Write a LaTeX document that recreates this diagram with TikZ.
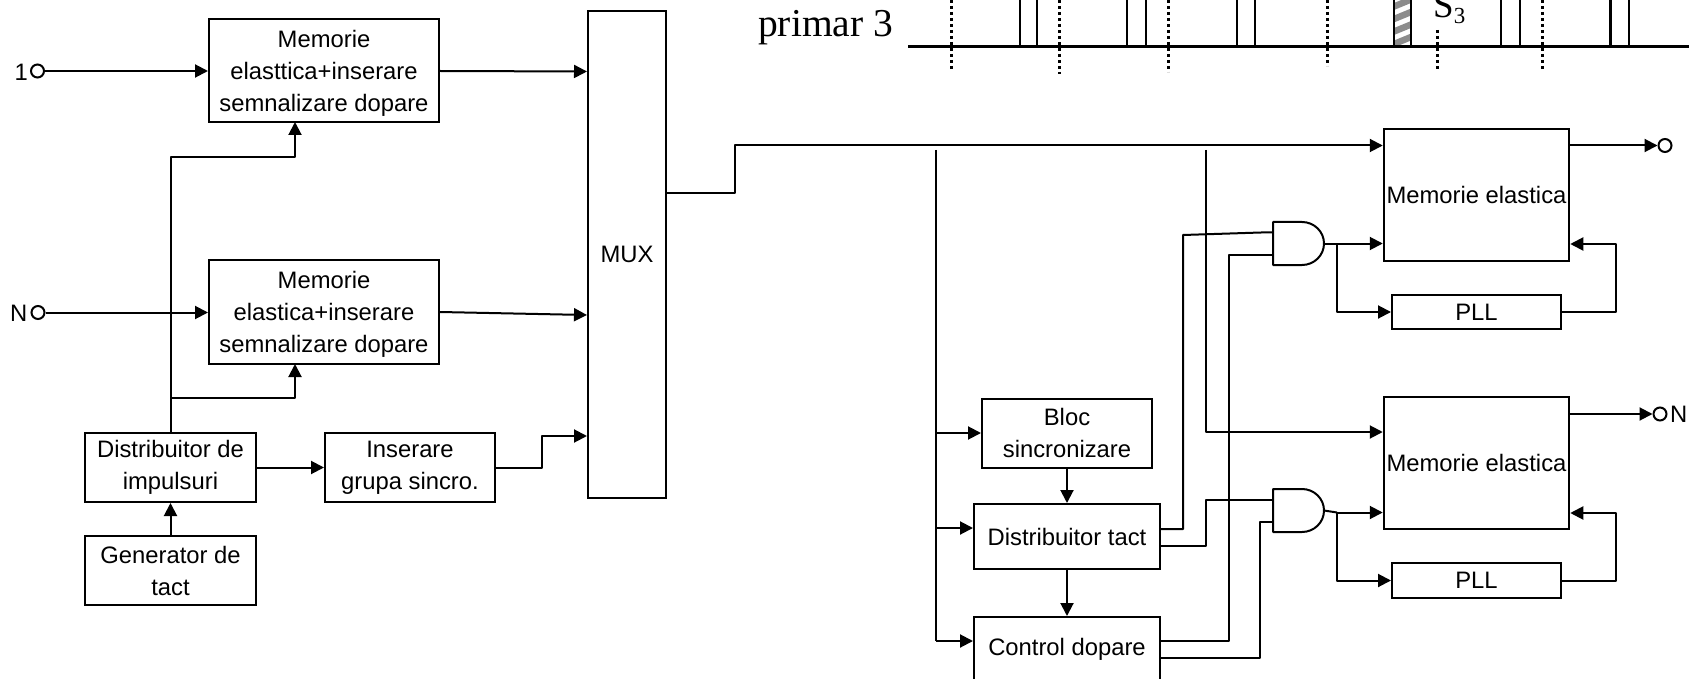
\documentclass[tikz,border=0pt]{standalone}
\usepackage{fontspec}
\setmainfont{Liberation Sans}
\newfontfamily\timesfont{Liberation Serif}
\usetikzlibrary{arrows.meta}
\tikzset{
  wire/.style={line width=2pt,line join=round},
  arr/.style={wire,-{Triangle[length=13pt,width=13pt]}},
  blockbox/.style={draw,line width=2pt,inner sep=0pt,align=center,font=\fontsize{23.8}{32}\selectfont},
  termcirc/.style={circle,draw,line width=2pt,minimum size=13pt,inner sep=0pt},
  lbl/.style={inner sep=0pt,font=\fontsize{23.8}{32}\selectfont},
  dotline/.style={line width=3pt,dash pattern=on 3pt off 3pt},
  pulse/.style={line width=2.4pt},
  timeline/.style={line width=2.8pt},
  gate/.style={line width=2pt,line join=round,fill=white}
}
\newcommand{\andgate}[3]{% name, left x, top y
  \coordinate (#1in1) at (#2,#3+10.5);
  \coordinate (#1in2) at (#2,#3+32.5);
  \coordinate (#1out) at (#2+51,#3+21.5);
  \draw[gate] (#2,#3) -- (#2+29,#3) arc[start angle=90,end angle=-90,x radius=22,y radius=-21.5] -- (#2,#3+43) -- cycle;
}
\newcommand{\firstline}{\rule{0pt}{22pt}}
\begin{document}
\begin{tikzpicture}[x=1pt,y=-1pt]
\useasboundingbox (0,0) rectangle (1689,679);
\clip (0,0) rectangle (1689,679);
% --- top timing fragment
\node[inner sep=0pt,anchor=base west,font=\timesfont\fontsize{39.5}{42}\selectfont] (prim) at (758,37) {primar 3};
\foreach \a/\b in {1020/1037,1127/1146,1237/1255,1501/1520,1610.5/1629}
  \draw[pulse] (\a,0) -- (\a,46.5) (\b,0) -- (\b,46.5);
\begin{scope}
  \clip (1394,0) rectangle (1411,46);
  \foreach \k in {-1,...,4}
    \fill[gray!90] (1394,{\k*12.5+3}) -- (1411,{\k*12.5-4}) -- (1411,{\k*12.5+3}) -- (1394,{\k*12.5+10}) -- cycle;
\end{scope}
\draw[pulse] (1394,0) -- (1394,46.5) (1411,0) -- (1411,46.5);
\draw[timeline] (908,46.5) -- (1689,46.5);
\foreach \x/\yy in {951/71,1059/74,1168/72,1327/66,1542/71}
  \draw[dotline] (\x,0) -- (\x,\yy);
\draw[dotline] (1437,30) -- (1437,71);
\node[inner sep=0pt,anchor=base west,font=\timesfont\fontsize{37}{40}\selectfont] (sthree) at (1433,18) {S\raisebox{-5.5pt}{\fontsize{23}{24}\selectfont 3}};
% --- left blocks
\node[blockbox,minimum width=230pt,minimum height=103pt] (mem1) at (324,70.5) {\firstline Memorie\\elasttica+inserare\\semnalizare dopare};
\node[blockbox,minimum width=230pt,minimum height=104pt] (memN) at (324,312) {\firstline Memorie\\elastica+inserare\\semnalizare dopare};
\node[blockbox,minimum width=78pt,minimum height=487pt] (mux) at (627,254.5) {MUX};
\node[blockbox,minimum width=171pt,minimum height=69pt] (dist) at (170.5,467.5) {Distribuitor de\\impulsuri};
\node[blockbox,minimum width=171pt,minimum height=69pt] (gen) at (170.5,570.5) {Generator de\\tact};
\node[blockbox,minimum width=170pt,minimum height=69pt] (ins) at (410,467.5) {Inserare\\grupa sincro.};
% --- right blocks
\node[blockbox,minimum width=185.5pt,minimum height=131.5pt] (el1) at (1476.5,195.2) {Memorie elastica};
\node[blockbox,minimum width=185.5pt,minimum height=131.5pt] (el2) at (1476.5,463.2) {Memorie elastica};
\node[blockbox,minimum width=169pt,minimum height=34pt] (pll1) at (1476.5,312) {PLL};
\node[blockbox,minimum width=169pt,minimum height=35pt] (pll2) at (1476.5,580.5) {PLL};
\node[blockbox,minimum width=170pt,minimum height=69pt] (bloc) at (1067,433) {Bloc\\sincronizare};
\node[blockbox,minimum width=186pt,minimum height=65pt] (dtact) at (1067,536.5) {Distribuitor tact};
\node[blockbox,minimum width=186pt,minimum height=65pt] (ctrl) at (1067,649.5) {Control dopare};
% --- terminals
\node[termcirc] (in1) at (37.5,71) {};
\node[lbl,anchor=east] (lab1) at (28,72) {1};
\node[termcirc] (inN) at (38,312.5) {};
\node[lbl,anchor=east] (labN) at (27.5,313) {N};
\node[termcirc] (out1) at (1665,145.5) {};
\node[termcirc] (outN) at (1660,414) {};
\node[lbl,anchor=west] (labON) at (1670,414) {N};
% --- gates
\andgate{ga}{1273}{222}
\andgate{gb}{1273}{489}
% --- junction coordinates
\coordinate (busA) at (936,150);
\coordinate (busB) at (1206,150);
\coordinate (fb1) at (1616,244);
\coordinate (fb2) at (1616,513);
% --- left connectors
\draw[arr] (in1) -- (mem1.west |- in1);
\draw[arr] (inN) -- (memN.west |- inN);
\draw[arr] (mem1.east |- 0,71) -- (mux.west |- 0,71.5);
\draw[arr] (memN.east |- 0,312) -- (mux.west |- 0,315);
\draw[arr] (171,433) -- (171,157) -- (295,157) -- (295,122);
\draw[arr] (171,398) -- (295,398) -- (295,364);
\draw[arr] (gen.north) -- (dist.south);
\draw[arr] (dist.east) -- (ins.west);
\draw[arr] (ins.east) -- (542,467.5) -- (542,436) -- (mux.west |- 0,436);
\draw[arr] (mux.east |- 0,193) -- (735,193) -- (735,145.5) -- (el1.west |- 0,145.5);
% --- right connectors
\draw[arr] (el1.east |- out1) -- (out1.west);
\draw[arr] (el2.east |- outN) -- (outN.west);
\draw[wire] (busA) -- (936,641);
\draw[arr] (936,433) -- (bloc.west);
\draw[arr] (936,528) -- (dtact.west |- 0,528);
\draw[arr] (936,641) -- (ctrl.west |- 0,641);
\draw[arr] (busB) -- (1206,432) -- (el2.west |- 0,432);
\draw[arr] (bloc.south) -- (dtact.north);
\draw[arr] (dtact.south) -- (ctrl.north);
\draw[wire] (dtact.east |- 0,529) -- (1183,529) -- (1183,235) -- (1261,232.5) -- (gain1);
\draw[wire] (ctrl.east |- 0,641) -- (1229,641) -- (1229,254.5) -- (gain2);
\draw[wire] (dtact.east |- 0,546) -- (1206,546) -- (1206,499.5) -- (gbin1);
\draw[wire] (ctrl.east |- 0,658) -- (1260,658) -- (1260,521.5) -- (gbin2);
\draw[wire] (gaout) -- (1337,243.5);
\draw[arr] (1337,243.5) -- (el1.west |- 0,243.5);
\draw[arr] (1337,243.5) -- (1337,312) -- (pll1.west);
\draw[wire] (gbout) -- (1337,512.5);
\draw[arr] (1337,512.5) -- (el2.west |- 0,512.5);
\draw[arr] (1337,512.5) -- (1337,580.5) -- (pll2.west);
\draw[arr] (pll1.east) -- (fb1 |- pll1.east) -- (fb1) -- (el1.east |- fb1);
\draw[arr] (pll2.east) -- (fb2 |- pll2.east) -- (fb2) -- (el2.east |- fb2);
\end{tikzpicture}
\end{document}
